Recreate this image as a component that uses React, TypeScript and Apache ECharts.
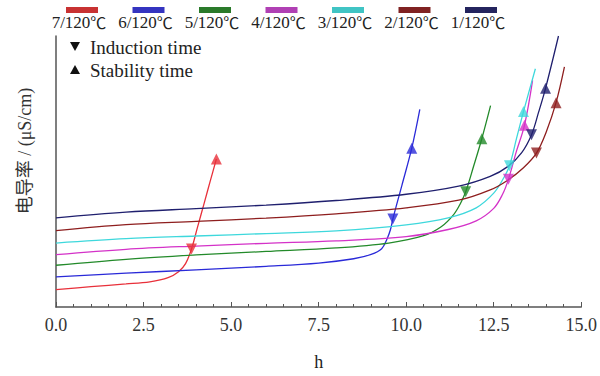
import React, { useEffect, useRef } from "react";
import * as echarts from "echarts";

const SERIES_NAMES = ["7/120", "6/120", "5/120", "4/120", "3/120", "2/120", "1/120"];
const UNIT = "℃";
const LINE_COLORS = ["#e8303a", "#2a2ad8", "#238a2a", "#d432c8", "#3ed8dc", "#8e1e1e", "#1f1f6e"];
const LEGEND_COLORS = ["#c83232", "#3434c0", "#2a7a2a", "#b040b4", "#40c4c4", "#802222", "#24245e"];
const X_TICKS = [0, 2.5, 5, 7.5, 10, 12.5, 15];

const curve7 = [[0, 6.4], [1, 7.5], [2, 8.5], [2.68, 9.3], [3.2, 10.8], [3.5, 13.0], [3.7, 16.0], [3.87, 21.4], [4.04, 29.4], [4.24, 38.7], [4.41, 46.7], [4.58, 54.6]];
const curve6 = [[0, 11.1], [2, 12.5], [4, 13.7], [6, 15.0], [7.5, 16.2], [8.5, 17.8], [9.0, 19.4], [9.3, 21.5], [9.45, 25.0], [9.55, 28.5], [9.62, 32.5], [9.88, 45], [10.16, 58.6], [10.39, 72.9]];
const curve5 = [[0, 15.4], [2, 17.6], [4, 19.2], [6, 20.5], [8, 21.8], [9.5, 23.6], [10.5, 26.3], [11.0, 29.6], [11.35, 34.0], [11.55, 38.2], [11.7, 42.5], [11.93, 52.1], [12.16, 62.1], [12.41, 74.3]];
const curve4 = [[0, 19.3], [2, 21.3], [4, 22.5], [6, 23.5], [8, 24.4], [10, 26.0], [11.2, 28.6], [12.0, 31.8], [12.5, 36.4], [12.75, 41.5], [12.92, 47.1], [13.15, 57.5], [13.38, 67.1], [13.61, 83.6]];
const curve3 = [[0, 23.6], [2, 25.2], [4, 26.2], [6, 27.1], [8, 28.1], [10, 30.3], [11.2, 32.9], [12.0, 36.6], [12.5, 42.0], [12.78, 47.5], [12.95, 52.1], [13.15, 62.1], [13.35, 72.1], [13.69, 87.9]];
const curve2 = [[0, 28.2], [2, 30.4], [4, 31.6], [6, 32.8], [8, 34.4], [10, 36.6], [11.5, 39.4], [12.4, 43.2], [12.9, 46.8], [13.35, 51.4], [13.72, 56.8], [14.0, 64.6], [14.28, 75.4], [14.52, 88.6]];
const curve1 = [[0, 32.9], [2, 35.0], [4, 36.3], [6, 37.6], [8, 39.3], [10, 41.6], [11.5, 44.6], [12.4, 48.2], [12.9, 51.8], [13.3, 57.0], [13.58, 63.6], [13.78, 71.8], [13.98, 80.7], [14.35, 100]];
const CURVES = [curve7, curve6, curve5, curve4, curve3, curve2, curve1];

const INDUCTION = [[3.87, 21.4], [9.62, 32.5], [11.7, 42.5], [12.92, 47.1], [12.95, 52.1], [13.72, 56.8], [13.58, 63.6]];
const STABILITY = [[4.58, 54.6], [10.16, 58.6], [12.16, 62.1], [13.38, 67.1], [13.35, 72.1], [14.28, 75.4], [13.98, 80.7]];

const SERIF = "Liberation Serif";

export default function App() {
  const ref = useRef<HTMLDivElement>(null);
  useEffect(() => {
    if (!ref.current) return;
    const chart = echarts.init(ref.current, null, { renderer: "svg" });
    const series: any[] = [];
    CURVES.forEach((c, i) => {
      series.push({
        type: "line",
        name: SERIES_NAMES[i] + UNIT,
        data: c,
        showSymbol: false,
        smooth: 0.35,
        lineStyle: { color: LINE_COLORS[i], width: 1.3 },
        z: 2,
      });
      series.push({
        type: "scatter",
        data: [
          { value: INDUCTION[i], symbolRotate: 180 },
          { value: STABILITY[i], symbolRotate: 0 },
        ],
        symbol: "triangle",
        symbolSize: 11,
        itemStyle: { color: LINE_COLORS[i] },
        z: 3,
      });
    });
    const graphic: any[] = [];
    SERIES_NAMES.forEach((n, i) => {
      const cx = 82 + i * 66.5;
      graphic.push({
        type: "rect",
        shape: { x: cx - 16, y: 7, width: 32, height: 6 },
        style: { fill: LEGEND_COLORS[i] },
      });
      graphic.push({
        type: "text",
        x: cx - 3,
        y: 22,
        style: {
          text: `{a|${n}}{b|${UNIT}}`,
          textAlign: "center",
          textVerticalAlign: "middle",
          fill: "#222",
          rich: {
            a: { fontFamily: SERIF, fontSize: 17, fill: "#222" },
            b: { fontFamily: "Noto Sans CJK SC", fontSize: 16, fill: "#222" },
          },
        },
      });
    });
    graphic.push(
      { type: "polygon", shape: { points: [[70, 42], [80, 42], [75, 51]] }, style: { fill: "#111" } },
      { type: "polygon", shape: { points: [[70, 74], [80, 74], [75, 65]] }, style: { fill: "#111" } },
      { type: "text", x: 90, y: 47, style: { text: "Induction time", textVerticalAlign: "middle", font: `19px "${SERIF}"`, fill: "#222" } },
      { type: "text", x: 90, y: 70, style: { text: "Stability time", textVerticalAlign: "middle", font: `19px "${SERIF}"`, fill: "#222" } },
      { type: "text", x: 25, y: 151, rotation: Math.PI / 2, style: { text: "电导率 / (μS/cm)", textAlign: "center", textVerticalAlign: "middle", font: `18px "${SERIF}", "Noto Sans CJK SC"`, fill: "#333" } }
    );
    chart.setOption({
      animation: false,
      backgroundColor: "#fff",
      grid: { left: 56, right: 17, top: 36, bottom: 60 },
      xAxis: {
        type: "value",
        min: 0,
        max: 15,
        interval: 2.5,
        name: "h",
        nameLocation: "middle",
        nameGap: 46,
        nameTextStyle: { fontFamily: SERIF, fontSize: 18, color: "#222" },
        axisLine: { lineStyle: { color: "#555", width: 1.5 } },
        axisTick: { inside: true, length: 5, lineStyle: { color: "#555" } },
        minorTick: { show: true, splitNumber: 5, length: 3, lineStyle: { color: "#555" } },
        splitLine: { show: false },
        axisLabel: {
          margin: 9,
          fontFamily: SERIF,
          fontSize: 18,
          color: "#333",
          formatter: (v: number) => (X_TICKS.includes(v) ? v.toFixed(1) : ""),
        },
      },
      yAxis: {
        type: "value",
        min: 0,
        max: 100,
        axisLine: { show: true, lineStyle: { color: "#555", width: 1.5 } },
        axisTick: { show: false },
        axisLabel: { show: false },
        splitLine: { show: false },
      },
      graphic,
      series,
    });
    return () => chart.dispose();
  }, []);
  return <div ref={ref} style={{ width: 600, height: 376, position: "absolute", left: 0, top: 0 }} />;
}
